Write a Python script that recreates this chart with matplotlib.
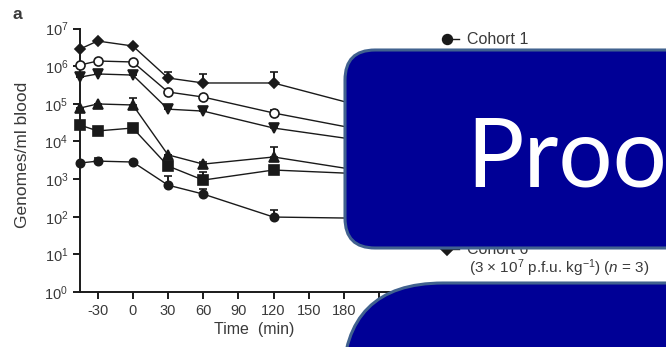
import matplotlib
matplotlib.use('Agg')
import matplotlib.pyplot as plt
from matplotlib.patches import FancyBboxPatch
from matplotlib.ticker import FixedLocator, NullLocator

plt.rcParams['font.family'] = ['Liberation Sans', 'DejaVu Sans']
plt.rcParams['mathtext.fontset'] = 'custom'
plt.rcParams['mathtext.rm'] = 'Liberation Sans'
plt.rcParams['mathtext.it'] = 'Liberation Sans:italic'
plt.rcParams['axes.unicode_minus'] = False

# sampling times (min); first point is the pre-dose sample on the axis
times = [-45, -30, 0, 30, 60, 120, 240]

cohorts = ['Cohort 1', 'Cohort 2', 'Cohort 3', 'Cohort 4', 'Cohort 5', 'Cohort 6']
doses = ['1', '3', '1', '3', '1', '3']
dose_exp = ['5', '5', '6', '6', '7', '7']

c1 = [2.67e3, 3.0e3, 2.84e3, 6.9e2, 4.0e2, 98, 87]
c2 = [2.73e4, 1.9e4, 2.27e4, 2.23e3, 9.4e2, 1.74e3, 1.2e3]
c3 = [7.7e4, 9.9e4, 9.3e4, 4.4e3, 2.5e3, 3.86e3, 1.0e3]
c4 = [5.1e5, 6.2e5, 5.8e5, 7.2e4, 6.4e4, 2.27e4, 6.7e3]
c5 = [1.07e6, 1.37e6, 1.29e6, 2.06e5, 1.51e5, 5.7e4, 1.1e4]
c6 = [2.85e6, 4.65e6, 3.43e6, 4.84e5, 3.57e5, 3.57e5, 3.7e4]

# upper error bars only
c1_err = [0, 6e2, 0, 5e2, 1.5e2, 53, 0]
c2_err = [0, 0, 0, 0, 6.1e2, 0, 0]
c3_err = [0, 0, 4.8e4, 0, 4e2, 3.2e3, 0]
c4_err = [0, 0, 0, 0, 0, 4e3, 0]
c5_err = [0, 0, 0, 0, 0, 1.2e4, 0]
c6_err = [0, 0, 0, 2.1e5, 2.6e5, 3.4e5, 0]

series = [c1, c2, c3, c4, c5, c6]
errs = [c1_err, c2_err, c3_err, c4_err, c5_err, c6_err]
styles = [('o', '#1a1a1a'), ('s', '#1a1a1a'), ('^', '#1a1a1a'),
          ('v', '#1a1a1a'), ('o', 'white'), ('D', '#1a1a1a')]
sizes = [6, 6.5, 6.5, 6.5, 6.5, 5.5]

W, H = 666, 347
fig = plt.figure(figsize=(W / 100, H / 100), dpi=100)
ax = fig.add_axes([80 / W, 1 - 292 / H, 346 / W, 263.5 / H])

ink = '#1a1a1a'
txt = '#3a3a3a'
for vals, err, (m, fc), ms in zip(series, errs, styles, sizes):
    ax.errorbar(times, vals, yerr=[[0] * len(err), err], color=ink, lw=1.0,
                marker=m, mfc=fc, mec=ink, mew=1.2, ms=ms,
                elinewidth=1.4, capsize=3.2, capthick=1.4, clip_on=False, zorder=3)

ax.set_yscale('log')
ax.set_ylim(1, 1e7)
ax.set_xlim(-45, 250)
ax.xaxis.set_major_locator(FixedLocator([-30, 0, 30, 60, 90, 120, 150, 180, 210, 240]))
ax.yaxis.set_major_locator(FixedLocator([10 ** k for k in range(8)]))
ax.yaxis.set_minor_locator(NullLocator())
ax.set_yticklabels([r'$10^{%d}$' % k for k in range(8)])

for s in ['top', 'right']:
    ax.spines[s].set_visible(False)
for s in ['left', 'bottom']:
    ax.spines[s].set_linewidth(1.4)
    ax.spines[s].set_color(ink)
ax.tick_params(direction='out', length=5, width=1.4, color=ink,
               labelsize=10.5, labelcolor=txt, pad=3.5)

ax.set_ylabel('Genomes/ml blood', fontsize=12.5, color=txt)
ax.yaxis.set_label_coords(-0.145, 0.52)
ax.set_xlabel('Time  (min)', fontsize=11.5, color=txt)
ax.xaxis.set_label_coords(0.503, -0.115)

# overlay in pixel coordinates (origin top-left)
ov = fig.add_axes([0, 0, 1, 1])
ov.set_xlim(0, W)
ov.set_ylim(H, 0)
ov.axis('off')

ov.text(17, 14, 'a', fontsize=12.5, fontweight='bold', color=txt, ha='center', va='center')

# legend: only the first and last entries show past the boxes
for i in [0, 5]:
    y = 39 + i * 42
    m, fc = styles[i]
    ov.plot([446, 459], [y, y], color=ink, lw=1.0, zorder=2)
    ov.plot([447], [y], marker=m, mfc=fc, mec=ink, mew=1.2, ms=sizes[i] + 1, color=ink, zorder=2)
    ov.text(467, y, cohorts[i], fontsize=11.5, color=txt, va='center', ha='left', zorder=2)
    ov.text(469, y + 19,
            r'(%s $\times$ 10$^{%s}$ p.f.u. kg$^{-1}$) ($n$ = 3)' % (doses[i], dose_exp[i]),
            fontsize=11, color=txt, va='center', ha='left', zorder=2)

navy = '#000096'
edge = '#41628F'
box1 = FancyBboxPatch((345, 50), 420, 198, boxstyle='round,pad=0,rounding_size=30',
                      fc=navy, ec=edge, lw=2.2, zorder=5)
ov.add_patch(box1)
box2 = FancyBboxPatch((343, 283), 520, 300, boxstyle='round,pad=0,rounding_size=100',
                      fc=navy, ec=edge, lw=2.2, zorder=5)
ov.add_patch(box2)
ov.text(466, 187, 'Proof', family=['Lato', 'DejaVu Sans'], fontsize=69, color='white',
        ha='left', va='baseline', zorder=6, clip_on=True)

fig.savefig('out.png', dpi=100)
